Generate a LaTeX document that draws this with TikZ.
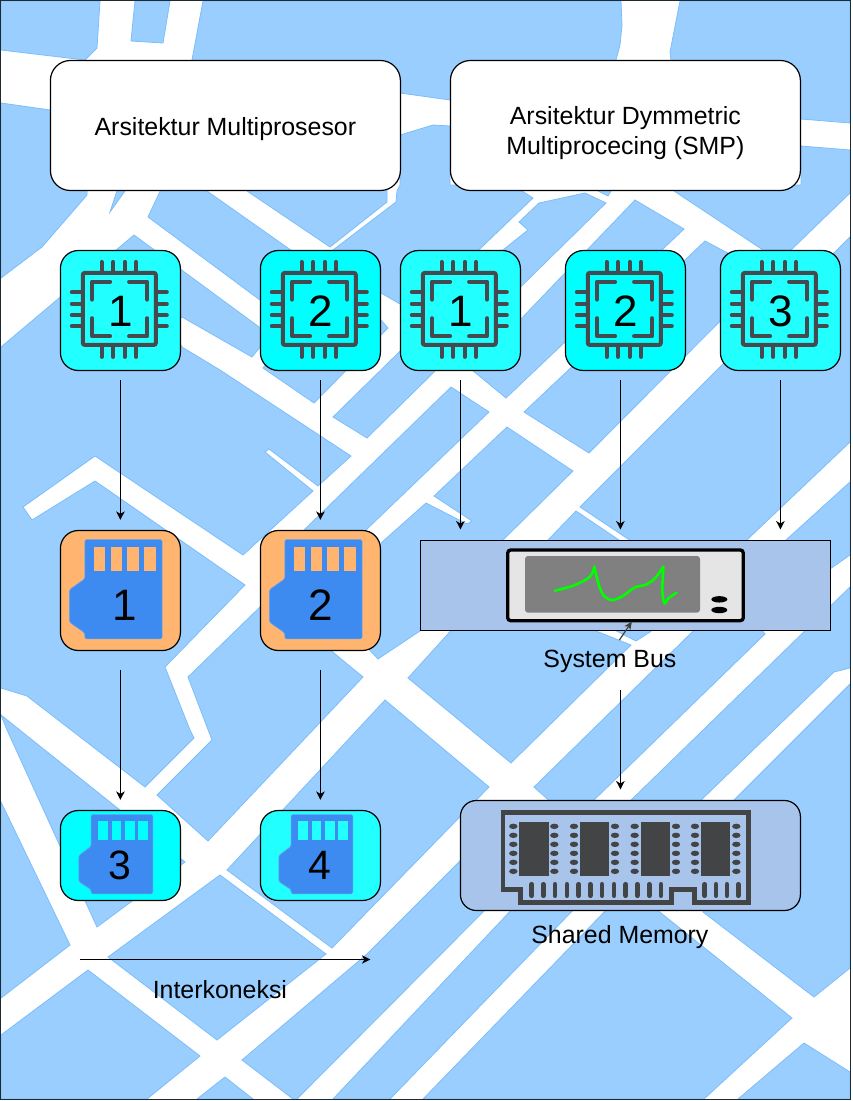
\documentclass[tikz,border=0pt]{standalone}
\usepackage{fontspec}
\setmainfont{Liberation Sans}
\usetikzlibrary{arrows.meta}
\definecolor{blk}{HTML}{99CEFF}
\definecolor{blkedge}{HTML}{7DBEFA}
\definecolor{cyanA}{HTML}{22FFFF}
\definecolor{cyanB}{HTML}{00FFFF}
\definecolor{orangeA}{HTML}{FFB570}
\definecolor{slate}{HTML}{A9C4EB}
\definecolor{chipink}{HTML}{454A4F}
\definecolor{cardblue}{HTML}{3D8BF0}
\definecolor{ramink}{HTML}{434445}
\definecolor{framecol}{HTML}{1F2A30}
\tikzset{
  blockpoly/.style={fill=blk,draw=blkedge,line width=0.8pt,line join=miter},
  tile/.style={draw=black,line width=1.2pt,minimum width=120pt,minimum height=120pt,rounded corners=18pt,inner sep=0pt},
  shorttile/.style={draw=black,line width=1.2pt,minimum width=120pt,minimum height=90pt,rounded corners=18pt,inner sep=0pt},
  header/.style={draw=black,fill=white,line width=1.2pt,minimum width=350pt,minimum height=130pt,rounded corners=20pt,inner sep=0pt},
  headtext/.style={align=center,inner sep=0pt,font=\fontsize{24.9}{30}\selectfont},
  digit/.style={inner sep=0pt,font=\fontsize{44}{44}\selectfont},
  smalldigit/.style={inner sep=0pt,font=\fontsize{41}{41}\selectfont},
  caption/.style={inner sep=0pt,font=\fontsize{24.9}{30}\selectfont},
  flow/.style={draw=black,line width=1.2pt,-{Stealth[length=8.5pt,width=8.5pt,inset=2.5pt]}},
  chipicon/.pic={
    \begin{scope}[draw=chipink,line width=4pt,line cap=round]
      \draw[rounded corners=2pt] (23,23) rectangle (96,95);
      \foreach \p in {41.7,53.3,65,76.3}{
        \draw (\p,12) -- (\p,23);
        \draw (\p,95) -- (\p,107);
      }
      \foreach \p in {42.3,54,65.3,76.3}{
        \draw (12,\p) -- (23,\p);
        \draw (96,\p) -- (107,\p);
      }
      \draw[line join=round] (32.3,49.7) -- (32.3,31.7) -- (50.3,31.7);
      \draw[line join=round] (69.3,31.7) -- (87.3,31.7) -- (87.3,49.7);
      \draw[line join=round] (32.3,68.3) -- (32.3,86.3) -- (50.3,86.3);
      \draw[line join=round] (69.3,86.3) -- (87.3,86.3) -- (87.3,68.3);
    \end{scope}
  },
  pics/tallcard/.style={code={
    \fill[cardblue,draw=cardblue!80!white,line width=0.6pt,rounded corners=1.5pt] (25,9.7) -- (102.3,9.7) -- (102.3,109) -- (25,109) -- (25,103) -- (9.7,92.3) -- (9.7,59.7) -- (25,49) -- cycle;
    \foreach \a/\b in {34/45,50.7/62.3,67.3/79,84/95.7}
      \fill[#1] (\a,17.3) rectangle (\b,41.3);
  }},
  pics/widecard/.style={code={
    \fill[cardblue,draw=cardblue!80!white,line width=0.6pt,rounded corners=1.5pt] (31.3,4.7) -- (93,4.7) -- (93,84) -- (31.3,84) -- (31.3,79.7) -- (19,71.7) -- (19,45.7) -- (31.3,36.3) -- cycle;
    \foreach \a/\b in {38.3/48.3,51.7/61.3,65/74.7,78/87.7}
      \fill[#1] (\a,11.3) rectangle (\b,29.7);
  }}
}
\begin{document}
\begin{tikzpicture}[x=1pt,y=-1pt]
\useasboundingbox (0,0) rectangle (852,1101);
\fill[white] (0,0) rectangle (852,1101);
% map blocks
\draw[blockpoly] (1,1)--(100,1)--(97,48)--(85,60)--(1,50)--cycle;
\draw[blockpoly] (135,1)--(170,1)--(163,43)--(131,41)--cycle;
\draw[blockpoly] (203,1)--(621,1)--(622,25)--(620,45)--(616,60)--(610,110)--(450,100)--(400,93)--(192,60)--cycle;
\draw[blockpoly] (680,1)--(850,1)--(850,123)--(801,119)--(700,110)--(671,60)--(670,52)--cycle;
\draw[blockpoly] (1,103)--(50,110)--(87,160)--(87,195)--(42,247)--(1,278)--cycle;
\draw[blockpoly] (119,185)--(125,185)--(125,191)--(110,212)--cycle;
\draw[blockpoly] (163,185)--(207,191)--(295,253)--(272,310)--(260,300)--(148,217)--cycle;
\draw[blockpoly] (247,191)--(330,247)--(387,202)--(387,185)--(247,185)--cycle;
\draw[blockpoly] (397,191)--(400,185)--(400,135)--(433,125)--(450,126)--(450,185)--(522,185)--(522,191)--(533,198)--(414,312)--(381,293)--(333,250)--(396,202)--cycle;
\draw[blockpoly] (519,222)--(539,203)--(585,193)--(606,203)--(367,438)--(333,417)--(503,250)--(528,230)--cycle;
\draw[blockpoly] (598,185)--(611,185)--(611,191)--(608,196)--(598,191)--cycle;
\draw[blockpoly] (635,200)--(684,229)--(506,398)--(472,370)--cycle;
\draw[blockpoly] (705,241)--(767,274)--(589,453)--(524,412)--cycle;
\draw[blockpoly] (801,146)--(850,150)--(850,193)--(791,250)--(763,250)--(674,191)--(674,185)--(801,185)--cycle;
\draw[blockpoly] (850,237)--(850,442)--(650,632)--(636,641)--(605,625)--(631,541)--(580,507)--cycle;
\draw[blockpoly] (451,387)--(489,412)--(367,529)--(345,560)--(300,535)--(305,529)--cycle;
\draw[blockpoly] (263,368)--(314,403)--(388,328)--(381,320)--(300,270)--(270,360)--cycle;
\draw[blockpoly] (1,347)--(134,235)--(270,335)--(252,357)--(182,317)--(170,325)--(182,347)--(220,370)--(351,456)--(318,486)--(269,449)--(265,452)--(313,491)--(243,555)--(95,456)--(23,507)--(32,520)--(95,481)--(245,585)--(165,667)--(190,730)--(194,738)--(145,787)--(27,696)--(1,688)--cycle;
\draw[blockpoly] (507,427)--(573,471)--(503,540)--(500,545)--(425,600)--(420,631)--(378,659)--(365,645)--(370,600)--(381,543)--(426,503)--(467,524)--(472,521)--(434,496)--cycle;
\draw[blockpoly] (576,511)--(619,540)--(600,625)--(555,625)--(548,540)--cycle;
\draw[blockpoly] (408,678)--(456,625)--(581,625)--(631,645)--(511,763)--cycle;
\draw[blockpoly] (188,677)--(262,605)--(300,625)--(363,677)--(208,841)--(157,795)--(212,740)--cycle;
\draw[blockpoly] (850,482)--(786,540)--(534,787)--(554,805)--(593,801)--(765,634)--(758,625)--(800,590)--(850,555)--cycle;
\draw[blockpoly] (850,587)--(626,805)--(696,805)--(834,672)--(850,668)--cycle;
\draw[blockpoly] (850,684)--(729,805)--(703,912)--(814,997)--(850,968)--cycle;
\draw[blockpoly] (1,715)--(185,862)--(97,927)--(7,730)--cycle;
\draw[blockpoly] (1,802)--(70,945)--(1,998)--cycle;
\draw[blockpoly] (220,875)--(108,957)--(217,1040)--(326,954)--cycle;
\draw[blockpoly] (385,700)--(489,787)--(332,948)--(227,870)--cycle;
\draw[blockpoly] (367,954)--(461,860)--(490,905)--(297,1099)--(293,1099)--(242,1060)--cycle;
\draw[blockpoly] (516,905)--(578,905)--(390,1099)--(333,1099)--cycle;
\draw[blockpoly] (611,905)--(651,905)--(792,1018)--(704,1099)--(423,1099)--cycle;
\draw[blockpoly] (804,1043)--(850,1072)--(850,1099)--(738,1099)--cycle;
\draw[blockpoly] (225,1077)--(197,1099)--(253,1099)--cycle;
\draw[blockpoly] (1,1035)--(88,970)--(200,1056)--(147,1099)--(1,1099)--cycle;
% frame
\draw[draw=framecol,line width=1.2pt] (0.5,0.5) rectangle (850.5,1099.8);
\begin{scope}[shift={(-0.6,-0.5)}]
% headers
\node[header] (hmulti) at (226,126) {};
\node[header] (hsmp) at (626,126) {};
\node[headtext] (tmulti) at (226,129.5) {Arsitektur Multiprosesor};
\node[headtext] (tsmp) at (626,133.5) {Arsitektur Dymmetric\\Multiprocecing (SMP)};
% processors
\node[tile,fill=cyanA] (p1) at (121,311) {};
\node[tile,fill=cyanB] (p2) at (321,311) {};
\node[tile,fill=cyanA] (s1) at (461,311) {};
\node[tile,fill=cyanB] (s2) at (626,311) {};
\node[tile,fill=cyanA] (s3) at (781,311) {};
\pic at (p1.north west) {chipicon};
\pic at (p2.north west) {chipicon};
\pic at (s1.north west) {chipicon};
\pic at (s2.north west) {chipicon};
\pic at (s3.north west) {chipicon};
\node[digit] (tp1) at (121.5,311.5) {1};
\node[digit] (tp2) at (321.5,311.5) {2};
\node[digit] (ts1) at (461.5,311.5) {1};
\node[digit] (ts2) at (626.5,311.5) {2};
\node[digit] (ts3) at (781.5,311.5) {3};
% cache tiles
\node[tile,fill=orangeA] (m1) at (121,591) {};
\node[tile,fill=orangeA] (m2) at (321,591) {};
\pic at (m1.north west) {tallcard=orangeA};
\pic at (m2.north west) {tallcard=orangeA};
\node[digit] (tm1) at (125,605.5) {1};
\node[digit] (tm2) at (321.5,605.5) {2};
\node[shorttile,fill=cyanB] (d3) at (121,856) {};
\node[shorttile,fill=cyanA] (d4) at (321,856) {};
\pic at (d3.north west) {widecard=cyanB};
\pic at (d4.north west) {widecard=cyanA};
\node[smalldigit] (td3) at (121,865.5) {3};
\node[smalldigit] (td4) at (320,865.5) {4};
% system bus
\node[draw=black,fill=slate,line width=1.2pt,minimum width=410pt,minimum height=90pt,inner sep=0pt] (bus) at (626,586) {};
\begin{scope}[shift={(415.6,530.5)},x=0.33333pt,y=-0.33333pt]
  \draw[draw=black,fill=black!10,line width=3.3pt,rounded corners=3pt] (278,60) rectangle (985,272);
  \fill[black!50,rounded corners=3pt] (330,78) rectangle (855,248);
  \fill[black] (913,208) ellipse [x radius=8pt,y radius=3.2pt];
  \fill[black] (913,240) ellipse [x radius=8pt,y radius=3.2pt];
  \draw[draw=green,line width=2.6pt,line cap=round,line join=round] plot[smooth,tension=0.55] coordinates {(420,182) (480,165) (525,140) (538,110)};
  \draw[draw=green,line width=2.6pt,line cap=round,line join=round] plot[smooth,tension=0.55] coordinates {(538,110) (550,160) (565,195) (590,210) (620,200) (660,172) (690,165) (720,145) (745,110)};
  \draw[draw=green,line width=2.6pt,line cap=round,line join=round] plot[smooth,tension=0.55] coordinates {(745,110) (742,180) (748,220) (760,205) (785,188)};
\end{scope}
\node[caption] (buslabel) at (610.5,661.5) {System Bus};
% shared memory
\node[draw=black,fill=slate,line width=1.2pt,minimum width=340pt,minimum height=110pt,rounded corners=16pt,inner sep=0pt] (mem) at (631,856) {};
\begin{scope}[shift={(455.6,795.5)},x=0.33333pt,y=-0.33333pt]
  \draw[draw=ramink,line width=4.6pt,line join=miter] (143.5,53) -- (880,53) -- (880,322) -- (718,322) -- (718,283) -- (650,283) -- (650,322) -- (197,322) -- (197,283) -- (143.5,283) -- cycle;
  \foreach \a/\b in {193/281,375/462,557/645,739/826}
    \fill[ramink] (\a,80) rectangle (\b,243);
  \foreach \a in {175,298,357,480,539,663,720,844}
    \foreach \b in {94,121,148,175,202,229}
      \fill[ramink] (\a,\b) ellipse [x radius=4.2pt,y radius=2.7pt];
  \foreach \a in {230,265,300,336,371,406,441,477,512,547,583,618,749,783,816,850}
    \draw[draw=ramink,line width=4.8pt,line cap=round] (\a,268) -- (\a,302);
\end{scope}
\node[caption] (memlabel) at (620.5,937.5) {Shared Memory};
% connectors
\coordinate (sa) at (461,530);
\coordinate (sb) at (621,530);
\coordinate (sc) at (781,530);
\coordinate (sd) at (621,380);
\coordinate (busout) at (621,690);
\coordinate (memin) at (621,790);
\coordinate (icstart) at (81,960);
\coordinate (icend) at (371,960);
\coordinate (labtop) at (620,640.5);
\coordinate (screenbot) at (632.5,622);
\draw[flow,shorten <=9pt,shorten >=10pt] (p1.south) -- (m1.north);
\draw[flow,shorten <=9pt,shorten >=10pt] (p2.south) -- (m2.north);
\draw[flow,shorten <=9pt] (s1.south) -- (sa);
\draw[flow] (sd) -- (sb);
\draw[flow,shorten <=9pt] (s3.south) -- (sc);
\draw[flow,shorten <=19pt,shorten >=10pt] (m1.south) -- (d3.north);
\draw[flow,shorten <=19pt,shorten >=10pt] (m2.south) -- (d4.north);
\draw[flow] (busout) -- (memin);
\draw[flow] (icstart) -- (icend);
\draw[draw=black!75,line width=1.2pt,-{Stealth[length=8pt,width=7pt,inset=2pt]}] (labtop) -- (screenbot);
\node[caption] (iclabel) at (220.5,990.5) {Interkoneksi};
\end{scope}
\end{tikzpicture}
\end{document}
